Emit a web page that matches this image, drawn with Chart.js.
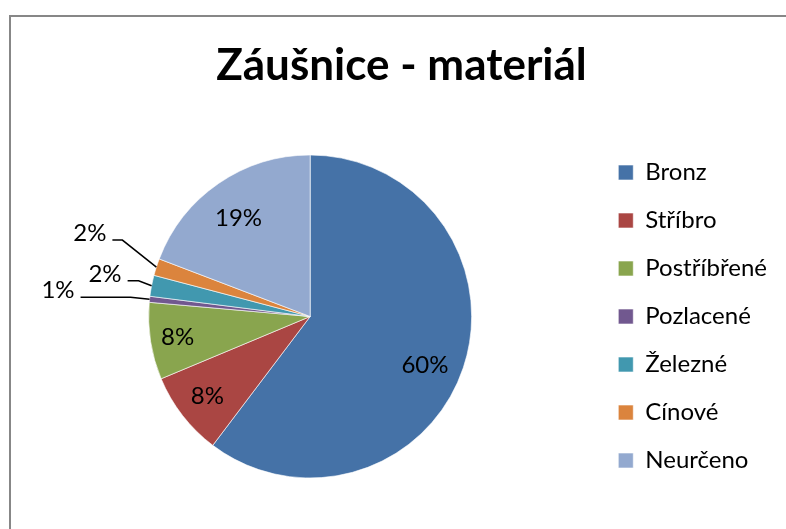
<!DOCTYPE html>
<html lang="cs">
<head>
<meta charset="UTF-8">
<title>Záušnice - materiál</title>
<script src="https://cdn.jsdelivr.net/npm/chart.js"></script>
<style>
  body { margin: 0; background: #fff; overflow: hidden; }
  #frame { position: absolute; left: 9px; top: 15px; width: 820px; height: 600px; border: 2px solid #878787; }
  #wrap { position: absolute; left: 0; top: 0; width: 786px; height: 529px; }
</style>
</head>
<body>
<div id="frame"></div>
<div id="wrap"><canvas id="chart"></canvas></div>
<script>
// Data (share of finds, %)
const categories = ['Bronz', 'Stříbro', 'Postříbřené', 'Pozlacené', 'Železné', 'Cínové', 'Neurčeno'];
const shares = [60.3, 8.4, 7.7, 0.6, 2.1, 1.7, 19.2];
const colors = ['#4572A7', '#AA4643', '#89A54E', '#71588F', '#4198AF', '#DB843D', '#93A9CF'];

// percentage labels, inside the slice or outside with a leader line
const sliceLabels = {
  id: 'sliceLabels',
  afterDatasetsDraw(chart, args, opts) {
    const ctx = chart.ctx;
    const total = shares.reduce((a, b) => a + b, 0);
    ctx.save();
    ctx.font = opts.font;
    ctx.fillStyle = '#000';
    ctx.strokeStyle = '#000';
    ctx.lineWidth = 1.5;
    chart.getDatasetMeta(0).data.forEach((arc, i) => {
      const p = arc.getProps(['x', 'y', 'startAngle', 'endAngle', 'outerRadius'], true);
      const mid = (p.startAngle + p.endAngle) / 2;
      const text = Math.round(shares[i] / total * 100) + '%';
      const lead = opts.leaders[i];
      if (!lead) {
        const [f, nx, ny] = opts.inside[i];
        ctx.textAlign = 'center';
        ctx.textBaseline = 'middle';
        ctx.fillText(text, p.x + Math.cos(mid) * p.outerRadius * f + nx, p.y + Math.sin(mid) * p.outerRadius * f + ny);
      } else {
        const ex = p.x + Math.cos(mid) * p.outerRadius;
        const ey = p.y + Math.sin(mid) * p.outerRadius;
        const bx = ex + lead[0], by = ey + lead[1];
        const sx = bx - lead[2];
        ctx.beginPath();
        ctx.moveTo(ex, ey);
        ctx.lineTo(bx, by);
        ctx.lineTo(sx, by);
        ctx.stroke();
        ctx.textAlign = 'right';
        ctx.textBaseline = 'alphabetic';
        ctx.fillText(text, sx - 6, by + 1);
      }
    });
    ctx.restore();
  }
};

new Chart(document.getElementById('chart'), {
  type: 'pie',
  data: {
    labels: categories,
    datasets: [{
      data: shares,
      backgroundColor: colors,
      borderColor: 'rgba(255,255,255,0.6)',
      borderWidth: 1
    }]
  },
  plugins: [sliceLabels],
  options: {
    responsive: true,
    maintainAspectRatio: false,
    animation: false,
    events: [],
    radius: 161.5,
    layout: { padding: { left: 26, right: 9, top: 0, bottom: 1 } },
    plugins: {
      title: {
        display: true,
        text: 'Záušnice - materiál',
        color: '#000',
        font: { family: 'Lato', size: 44, weight: 'bold', lineHeight: 1.2 },
        padding: { top: 39.6, bottom: 12.6 }
      },
      legend: {
        position: 'right',
        fullSize: false,
        labels: {
          color: '#000',
          font: { family: 'Lato', size: 24 },
          boxWidth: 15,
          boxHeight: 15,
          padding: 24
        }
      },
      tooltip: { enabled: false },
      sliceLabels: {
        font: '24px Lato',
        inside: [[0.75, 0, 10], [0.805, 0, 0], [0.83, 0, 0], null, null, null, [0.76, -2, 3]],
        leaders: [null, null, null, [-19, -2, 50], [-13, -5, 11], [-34, -27, 10], null]
      }
    }
  }
});
</script>
</body>
</html>
